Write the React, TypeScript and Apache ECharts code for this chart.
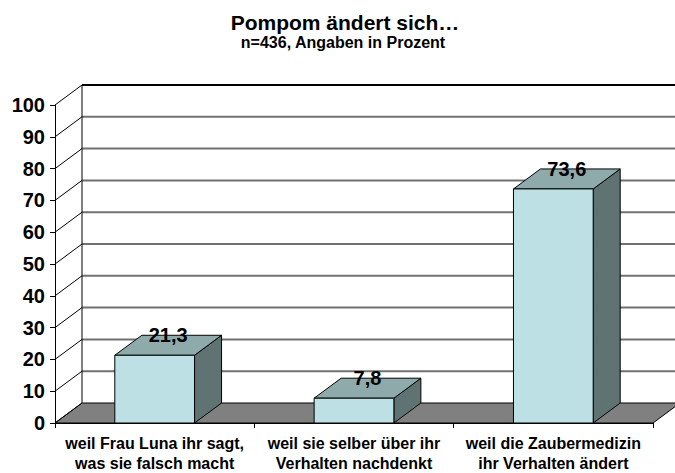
import React, { useEffect, useRef } from "react";
import * as echarts from "echarts";

const categories = [
  "weil Frau Luna ihr sagt,\nwas sie falsch macht",
  "weil sie selber über ihr\nVerhalten nachdenkt",
  "weil die Zaubermedizin\nihr Verhalten ändert",
];
const values = [21.3, 7.8, 73.6];
const valueLabels = ["21,3", "7,8", "73,6"];
const yTicks = [0, 10, 20, 30, 40, 50, 60, 70, 80, 90, 100];

const DX = 27;
const DY = -20;
const FONT = "'Liberation Sans', Arial, sans-serif";

export default function App() {
  const ref = useRef<HTMLDivElement>(null);
  useEffect(() => {
    if (!ref.current) return;
    const chart = echarts.init(ref.current, null, { renderer: "svg" });

    const wallsRender = (params: any, api: any) => {
      const cs = params.coordSys;
      const x0 = cs.x;
      const x1 = cs.x + cs.width;
      const yb = api.coord([0, 0])[1];
      const children: any[] = [];
      children.push({
        type: "polygon",
        shape: { points: [[x0, yb], [x1, yb], [x1 + DX, yb + DY], [x0 + DX, yb + DY]] },
        style: { fill: "#808080", stroke: "#000", lineWidth: 1 },
      });
      yTicks.forEach((v) => {
        const y = api.coord([0, v])[1];
        if (v > 0) {
          children.push({
            type: "line",
            shape: { x1: x0 + DX, y1: y + DY, x2: x1 + DX + 5, y2: y + DY },
            style: { stroke: v === 100 ? "#000" : "#707070", lineWidth: 2 },
          });
        }
        children.push({
          type: "line",
          shape: { x1: x0, y1: y, x2: x0 + DX, y2: y + DY },
          style: { stroke: "#000", lineWidth: 1 },
        });
      });
      const yt = api.coord([0, 100])[1];
      children.push({
        type: "line",
        shape: { x1: x0 + DX, y1: yt + DY, x2: x0 + DX, y2: yb + DY },
        style: { stroke: "#000", lineWidth: 1 },
      });
      return { type: "group", children };
    };

    const barRender = (params: any, api: any) => {
      const i = api.value(0);
      const v = api.value(1);
      const p0 = api.coord([i, 0]);
      const p1 = api.coord([i, v]);
      const w = api.size([1, 0])[0] * 0.4;
      const l = p0[0] - w / 2;
      const r = p0[0] + w / 2;
      const t = p1[1];
      const b = p0[1];
      return {
        type: "group",
        children: [
          {
            type: "polygon",
            shape: { points: [[r, t], [r, b], [r + DX, b + DY], [r + DX, t + DY]] },
            style: { fill: "#5f7373", stroke: "#000", lineWidth: 1 },
          },
          {
            type: "polygon",
            shape: { points: [[l, t], [r, t], [r + DX, t + DY], [l + DX, t + DY]] },
            style: { fill: "#8eaaab", stroke: "#000", lineWidth: 1 },
          },
          {
            type: "rect",
            shape: { x: l, y: t, width: w, height: b - t },
            style: { fill: "#bce0e3", stroke: "#000", lineWidth: 1 },
          },
          {
            type: "text",
            x: p0[0] + DX / 2,
            y: t + DY,
            style: {
              text: valueLabels[params.dataIndex],
              fill: "#000",
              font: `bold 20px ${FONT}`,
              align: "center",
              verticalAlign: "middle",
            },
          },
        ],
      };
    };

    chart.setOption({
      animation: false,
      backgroundColor: "#fff",
      title: [
        {
          text: "Pompom ändert sich…",
          left: 345,
          top: 12,
          textAlign: "center",
          padding: 0,
          textStyle: { fontFamily: FONT, fontWeight: "bold", fontSize: 21, color: "#000" },
        },
        {
          text: "n=436, Angaben in Prozent",
          left: 343,
          top: 34,
          textAlign: "center",
          padding: 0,
          textStyle: { fontFamily: FONT, fontWeight: "bold", fontSize: 16, color: "#000" },
        },
      ],
      grid: { left: 55, right: 22, top: 105, bottom: 49, containLabel: false },
      xAxis: {
        type: "category",
        data: categories,
        axisLine: { show: true, lineStyle: { color: "#000", width: 1 } },
        axisTick: { show: true, length: 5, lineStyle: { color: "#000" } },
        axisLabel: {
          interval: 0,
          margin: 10,
          color: "#000",
          fontFamily: FONT,
          fontWeight: "bold",
          fontSize: 16,
          lineHeight: 20,
        },
        splitLine: { show: false },
      },
      yAxis: {
        type: "value",
        min: 0,
        max: 100,
        interval: 10,
        axisLine: { show: true, lineStyle: { color: "#000", width: 1 } },
        axisTick: { show: true, length: 5, lineStyle: { color: "#000" } },
        axisLabel: {
          margin: 10,
          color: "#000",
          fontFamily: FONT,
          fontWeight: "bold",
          fontSize: 20,
        },
        splitLine: { show: false },
      },
      series: [
        {
          type: "custom",
          z: 1,
          silent: true,
          renderItem: wallsRender,
          data: [[0, 0]],
          clip: false,
        },
        {
          type: "custom",
          z: 3,
          renderItem: barRender,
          data: values.map((v, i) => [i, v]),
          clip: false,
        },
      ],
    });
    return () => chart.dispose();
  }, []);
  return (
    <div
      ref={ref}
      style={{ position: "fixed", left: 0, top: 0, width: 675, height: 473 }}
    />
  );
}
